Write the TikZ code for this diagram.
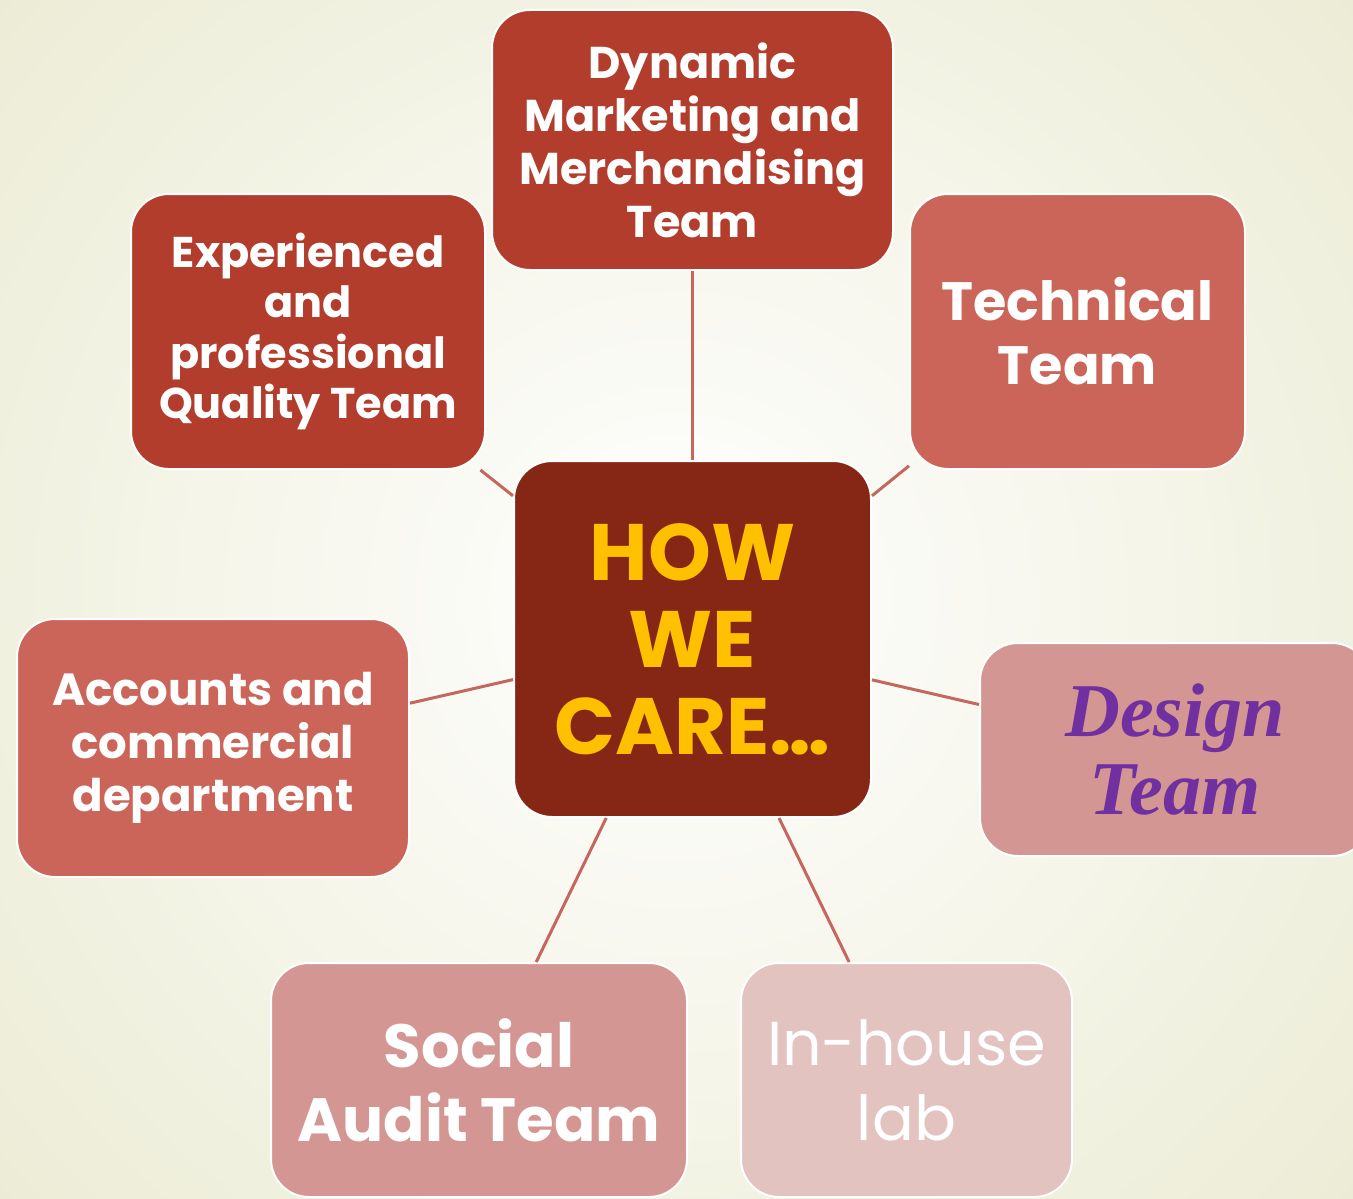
\documentclass[tikz,border=0pt]{standalone}
\usepackage{fontspec}
\setmainfont{Poppins}
\newfontfamily\designfont{Liberation Serif}
\definecolor{bgout}{HTML}{ECECD6}
\definecolor{cdark}{HTML}{B33D2D}
\definecolor{cmid}{HTML}{CB6559}
\definecolor{clight}{HTML}{D49692}
\definecolor{clighter}{HTML}{E3C3C0}
\definecolor{ccenter}{HTML}{862716}
\definecolor{cline}{HTML}{C5675D}
\definecolor{cyellow}{HTML}{FFC000}
\definecolor{cpurple}{HTML}{7030A0}
\tikzset{
  teambox/.style={rectangle, rounded corners=38pt, draw=white, line width=2pt,
    align=center, text=white, inner sep=0pt},
  link/.style={draw=cline, line width=3pt}
}
\begin{document}
\begin{tikzpicture}[x=1pt,y=-1pt]
\useasboundingbox (0,0) rectangle (1353,1199);
\clip (0,0) rectangle (1353,1199);
\shade[inner color=white, outer color=bgout] (-228,-304) rectangle (1580,1504);

\node[teambox, fill=cdark, minimum width=401pt, minimum height=260pt,
  font=\bfseries\fontsize{44.5}{53}\selectfont] (top) at (692.5,140)
  {Dynamic\\Marketing and\\Merchandising\\Team};
\node[teambox, fill=cdark, minimum width=354pt, minimum height=275pt,
  font=\bfseries\fontsize{43}{50.5}\selectfont] (exp) at (308,331.5)
  {Experienced\\and\\professional\\Quality Team};
\node[teambox, fill=cmid, minimum width=335pt, minimum height=275pt,
  font=\bfseries\fontsize{54}{64}\selectfont] (tech) at (1077.5,331.5)
  {Technical\\Team};
\node[teambox, fill=ccenter, minimum width=357pt, minimum height=356pt,
  text=cyellow, font=\bfseries\fontsize{80}{87}\selectfont] (center) at (692.5,639)
  {HOW\\WE\\CARE\ldots};
\node[teambox, fill=cmid, minimum width=392pt, minimum height=258pt,
  font=\bfseries\fontsize{45}{53}\selectfont] (acc) at (213,748)
  {Accounts and\\commercial\\department};
\node[teambox, fill=clight, minimum width=390pt, minimum height=213pt,
  text=cpurple, font=\designfont\bfseries\itshape\fontsize{76}{78}\selectfont] (design) at (1175,749.5)
  {Design\\Team};
\node[teambox, fill=clight, minimum width=416pt, minimum height=234pt,
  font=\bfseries\fontsize{61}{74}\selectfont] (social) at (479,1080)
  {Social\\Audit Team};
\node[teambox, fill=clighter, minimum width=331pt, minimum height=234pt,
  font=\fontsize{62}{75}\selectfont] (lab) at (906.5,1080)
  {In-house\\lab};

\draw[link] (top) -- (center);
\draw[link] (exp) -- (center);
\draw[link] (tech) -- (center);
\draw[link] (acc) -- (center);
\draw[link] (design) -- (center);
\draw[link] (social) -- (center);
\draw[link] (lab) -- (center);
\end{tikzpicture}
\end{document}
